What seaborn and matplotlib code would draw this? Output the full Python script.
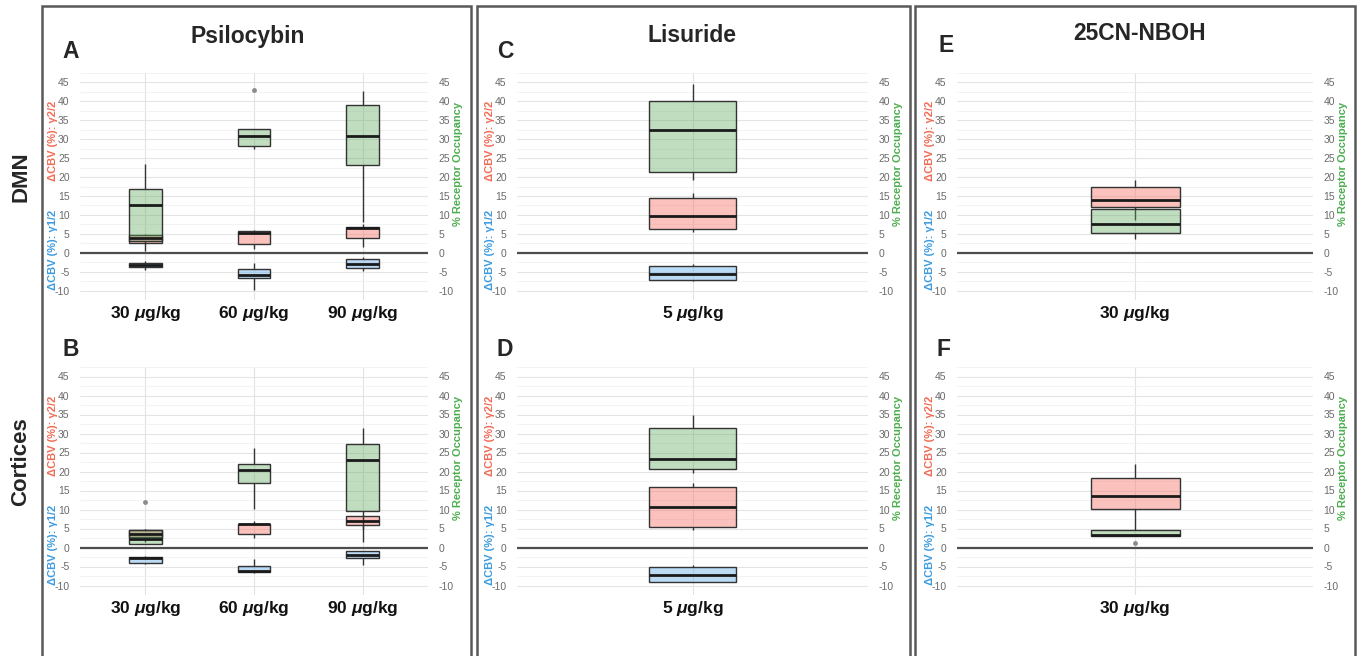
import numpy as np
import pandas as pd
import matplotlib
matplotlib.use('Agg')
import matplotlib.pyplot as plt
import seaborn as sns
from matplotlib.colors import to_rgba
from matplotlib.ticker import MultipleLocator

# ── Data: each box = [whisker low, Q1, median, Q3, whisker high] ──
psilo_doses = ['30 $\\mu$g/kg', '60 $\\mu$g/kg', '90 $\\mu$g/kg']
lisu_doses = ['5 $\\mu$g/kg']
nboh_doses = ['30 $\\mu$g/kg']

# A: DMN, psilocybin
A_neg = [[-4.5, -3.8, -3.3, -2.7, -2.3], [-9.8, -6.7, -6.0, -4.2, -2.7], [-4.8, -4.0, -2.9, -1.6, -1.1]]
A_pos = [[2.4, 2.6, 4.0, 4.6, 5.0], [1.1, 2.3, 5.1, 5.7, 6.1], [1.4, 3.8, 6.6, 6.9, 7.6]]
A_occ = [[0.5, 3.0, 12.6, 16.9, 23.4], [27.4, 28.3, 30.9, 32.7, 32.7], [8.0, 23.1, 30.8, 39.1, 42.7]]
A_out_dose = ['60 $\\mu$g/kg']
A_out_val = [42.9]

# B: cortices, psilocybin
B_neg = [[-4.3, -4.1, -2.8, -2.5, -2.3], [-6.8, -6.5, -6.2, -4.9, -3.0], [-4.7, -2.7, -1.9, -1.0, -0.8]]
B_pos = [[1.5, 2.7, 3.6, 4.7, 5.0], [2.5, 3.6, 6.1, 6.3, 7.1], [5.0, 5.8, 7.1, 8.2, 8.5]]
B_occ = [[0.8, 1.0, 2.3, 4.5, 5.0], [10.1, 17.1, 20.5, 22.1, 26.3], [1.4, 9.5, 23.0, 27.2, 31.4]]
B_out_dose = ['30 $\\mu$g/kg']
B_out_val = [12.0]

# C: DMN, lisuride
C_neg = [[-7.6, -7.2, -5.6, -3.6, -3.0]]
C_pos = [[5.6, 6.2, 9.8, 14.5, 15.9]]
C_occ = [[19.3, 21.3, 32.5, 40.0, 44.6]]

# D: cortices, lisuride
D_neg = [[-9.1, -9.1, -7.2, -5.1, -4.5]]
D_pos = [[4.5, 5.3, 10.7, 16.0, 16.9]]
D_occ = [[19.6, 20.6, 23.3, 31.4, 35.0]]

# E: DMN, 25CN-NBOH
E_pos = [[8.6, 12.1, 13.8, 17.5, 19.1]]
E_occ = [[3.5, 5.1, 7.5, 11.5, 11.9]]

# F: cortices, 25CN-NBOH
F_pos = [[4.5, 10.2, 13.6, 18.4, 21.9]]
F_occ = [[3.1, 3.1, 3.3, 4.5, 4.5]]
F_out_dose = ['30 $\\mu$g/kg']
F_out_val = [1.2]

# ── Style ──
sns.set_theme(style='white')
plt.rcParams['font.family'] = ['Liberation Sans', 'DejaVu Sans']
plt.rcParams['axes.unicode_minus'] = False
plt.rcParams['mathtext.fontset'] = 'custom'
plt.rcParams['mathtext.it'] = 'Liberation Sans:italic:bold'
plt.rcParams['mathtext.rm'] = 'Liberation Sans:bold'
plt.rcParams['mathtext.bf'] = 'Liberation Sans:bold'

NEG_C = '#6aaee8'
POS_C = '#f8766d'
OCC_C = '#5aa85a'
NEG_T = '#3b9be0'
POS_T = '#f26b55'
OCC_T = '#4cae4f'

W, H = 1362, 656
fig = plt.figure(figsize=(W / 100, H / 100), dpi=100)


def fx(x):
    return x / W


def fy(y):
    return 1 - y / H


def draw_boxes(ax, doses, boxes, color, alpha):
    rows = [(d, v) for d, b in zip(doses, boxes) for v in b]
    df = pd.DataFrame(rows, columns=['dose', 'value'])
    n0 = len(ax.patches)
    sns.boxplot(data=df, x='dose', y='value', order=doses, ax=ax, width=0.3,
                whis=np.inf, color=color, saturation=1, linecolor='0.2',
                linewidth=1, medianprops=dict(color='0.1', linewidth=2),
                showcaps=False, fliersize=0)
    for p in ax.patches[n0:]:
        p.set_facecolor(to_rgba(color, alpha))


def panel(box, doses, neg, pos, occ, out_dose=None, out_val=None):
    x0, x1, y0, y1 = box
    ax = fig.add_axes([fx(x0), fy(y1), fx(x1) - fx(x0), fy(y0) - fy(y1)])
    ax.set_axisbelow(True)
    ax.axhline(0, color='0.3', lw=1.6, zorder=1.5)
    if neg is not None:
        draw_boxes(ax, doses, neg, NEG_C, 0.45)
    draw_boxes(ax, doses, pos, POS_C, 0.45)
    draw_boxes(ax, doses, occ, OCC_C, 0.38)
    if out_dose is not None:
        sns.stripplot(x=out_dose, y=out_val, order=doses, ax=ax, jitter=False,
                      color='0.55', size=3.5)
    ax.set_ylim(-12.5, 47.5)
    ax.set_xlim(-0.6, len(doses) - 0.4)
    ax.set_yticks(np.arange(-10, 46, 5))
    ax.yaxis.set_minor_locator(MultipleLocator(2.5))
    ax.grid(which='major', axis='y', color='#e4e4e4', lw=0.8)
    ax.grid(which='minor', axis='y', color='#f1f1f1', lw=0.6)
    ax.grid(which='major', axis='x', color='#e2e2e2', lw=0.8)
    for s in ax.spines.values():
        s.set_visible(False)
    ax.set_xlabel('')
    ax.set_ylabel('')
    ax.tick_params(axis='y', which='both', left=False, right=False,
                   labelleft=True, labelright=True, labelsize=7.5,
                   labelcolor='#6a6a6a', pad=1.5)
    ax.tick_params(axis='x', length=0, pad=3, labelsize=12.5, labelcolor='#111')
    for lbl in ax.get_xticklabels():
        lbl.set_fontweight('bold')
    # axis titles
    yc = lambda f: y1 - f * (y1 - y0)
    fig.text(fx(x0 - 27), fy(yc(0.22)), '\u0394CBV (%): \u03b31/2', color=NEG_T,
             rotation=90, ha='center', va='center', fontsize=8, fontweight='bold')
    fig.text(fx(x0 - 27), fy(yc(0.70)), '\u0394CBV (%): \u03b32/2', color=POS_T,
             rotation=90, ha='center', va='center', fontsize=8, fontweight='bold')
    fig.text(fx(x1 + 30), fy(yc(0.60)), '% Receptor Occupancy', color=OCC_T,
             rotation=90, ha='center', va='center', fontsize=8, fontweight='bold')
    return ax


top = (73, 300)
bot = (367, 595)
cols = [(80, 428), (517, 868), (957, 1313)]

panel(cols[0] + top, psilo_doses, A_neg, A_pos, A_occ, A_out_dose, A_out_val)
panel(cols[0] + bot, psilo_doses, B_neg, B_pos, B_occ, B_out_dose, B_out_val)
panel(cols[1] + top, lisu_doses, C_neg, C_pos, C_occ)
panel(cols[1] + bot, lisu_doses, D_neg, D_pos, D_occ)
panel(cols[2] + top, nboh_doses, None, E_pos, E_occ)
panel(cols[2] + bot, nboh_doses, None, F_pos, F_occ, F_out_dose, F_out_val)

# ── Titles, letters, row labels ──
for x, y, t in [(248, 37, 'Psilocybin'), (692, 35, 'Lisuride'), (1140, 33, '25CN-NBOH')]:
    fig.text(fx(x), fy(y), t, ha='center', va='center', fontsize=16.5, fontweight='bold')
for x, y, t in [(62, 52, 'A'), (62, 349, 'B'), (497, 52, 'C'), (497, 350, 'D'),
                (938, 46, 'E'), (937, 350, 'F')]:
    fig.text(fx(x), fy(y), t, ha='left', va='center', fontsize=16.5, fontweight='bold')
fig.text(fx(21), fy(177), 'DMN', rotation=90, ha='center', va='center',
         fontsize=16, fontweight='bold')
fig.text(fx(21), fy(462), 'Cortices', rotation=90, ha='center', va='center',
         fontsize=16, fontweight='bold')

# ── Column frames ──
for xa, xb in [(42, 471), (477, 910), (915, 1355)]:
    fig.add_artist(plt.Rectangle((fx(xa), -0.05), fx(xb) - fx(xa), fy(6) + 0.05,
                                 transform=fig.transFigure, fill=False,
                                 ec='0.35', lw=1.8))

fig.savefig('out.png', dpi=100)
